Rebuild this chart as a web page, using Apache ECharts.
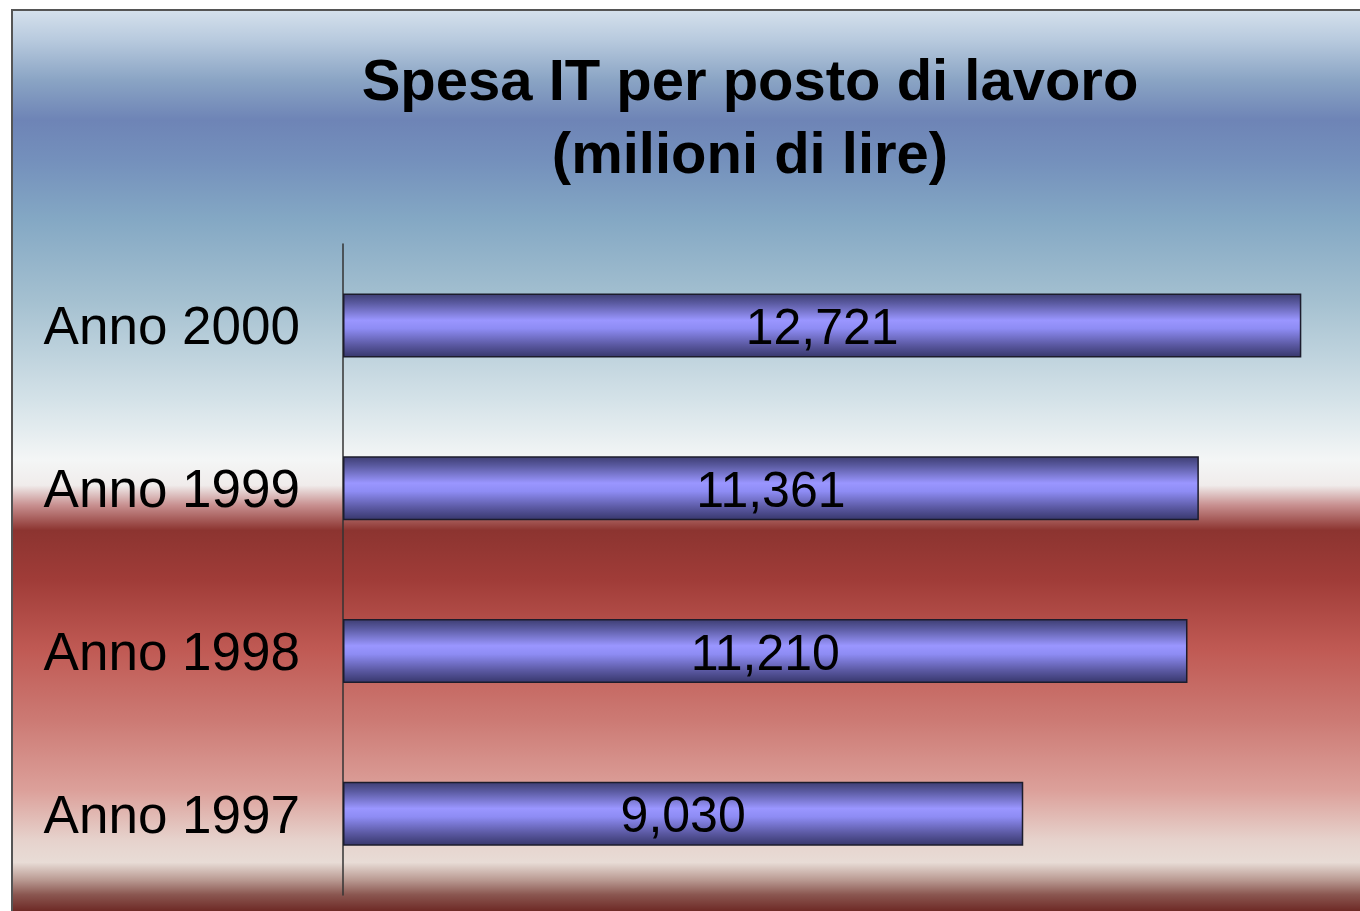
<!DOCTYPE html>
<html>
<head>
<meta charset="utf-8">
<script src="https://cdn.jsdelivr.net/npm/echarts@6/dist/echarts.min.js"></script>
<style>
  html, body { margin: 0; padding: 0; background: #fff; }
  #frame {
    position: absolute; left: 11px; top: 9px; width: 1349px; height: 902px;
    box-sizing: border-box; border-top: 2px solid #555; border-left: 2px solid #555;
  }
  #chart { width: 1347px; height: 900px; }
</style>
</head>
<body>
<div id="frame"><div id="chart"></div></div>
<script>
// dati (milioni di lire)
const categories = ["Anno 1997", "Anno 1998", "Anno 1999", "Anno 2000"];
const values = [9.030, 11.210, 11.361, 12.721];
const titleText = "Spesa IT per posto di lavoro\n(milioni di lire)";

const myChart = echarts.init(document.getElementById("chart"));

// sfondo: blu in alto, bianco al centro, rosso in basso
const bgGradient = new echarts.graphic.LinearGradient(0, 0, 0, 1, [
  { offset: 0, color: "#d4e0ec" },
  { offset: 0.032, color: "#b8cade" },
  { offset: 0.077, color: "#8aa4c4" },
  { offset: 0.121, color: "#6e84b6" },
  { offset: 0.166, color: "#7490bc" },
  { offset: 0.232, color: "#84a8c4" },
  { offset: 0.321, color: "#a4c0d0" },
  { offset: 0.432, color: "#d4e2e8" },
  { offset: 0.499, color: "#f4f6f6" },
  { offset: 0.527, color: "#f0eceb" },
  { offset: 0.549, color: "#c89090" },
  { offset: 0.577, color: "#8c3430" },
  { offset: 0.632, color: "#a03c38" },
  { offset: 0.71, color: "#c05a54" },
  { offset: 0.788, color: "#cc7a74" },
  { offset: 0.866, color: "#dca09a" },
  { offset: 0.921, color: "#e6d2cc" },
  { offset: 0.946, color: "#e8dcd6" },
  { offset: 0.966, color: "#b89890" },
  { offset: 0.982, color: "#8a5650" },
  { offset: 1, color: "#6e2a26" },
]);

const barGradient = new echarts.graphic.LinearGradient(0, 0, 0, 1, [
  { offset: 0, color: "#3c3c70" },
  { offset: 0.15, color: "#5a5aa0" },
  { offset: 0.42, color: "#9a96ff" },
  { offset: 0.55, color: "#8e8cf4" },
  { offset: 0.8, color: "#5c5aa4" },
  { offset: 1, color: "#36366a" },
]);

const option = {
  backgroundColor: bgGradient,
  animation: false,
  title: {
    text: titleText,
    left: 737,
    top: 36,
    textAlign: "center",
    padding: 0,
    textStyle: {
      fontFamily: "Liberation Sans",
      fontWeight: "bold",
      fontSize: 58,
      lineHeight: 73,
      color: "#000",
    },
  },
  grid: {
    left: 330,
    right: 0,
    top: 233,
    bottom: 16,
    containLabel: false,
  },
  xAxis: {
    type: "value",
    min: 0,
    max: 13.5,
    show: false,
    splitLine: { show: false },
  },
  yAxis: {
    type: "category",
    data: categories,
    axisTick: { show: false },
    axisLine: { lineStyle: { color: "#333", width: 1.5 } },
    axisLabel: {
      margin: 43,
      formatter: function (v) {
        return "{t|" + v + "}";
      },
      rich: {
        t: {
          fontFamily: "Liberation Sans",
          fontSize: 53,
          color: "#000",
          padding: [9, 0, 0, 0],
        },
      },
    },
  },
  series: [
    {
      type: "bar",
      data: values,
      barWidth: 64,
      itemStyle: {
        color: barGradient,
        borderColor: "#1c1c2c",
        borderWidth: 1.5,
      },
      label: {
        show: true,
        position: "inside",
        offset: [0, 5],
        fontFamily: "Liberation Sans",
        fontSize: 50,
        color: "#000",
        formatter: function (p) {
          return p.value.toFixed(3).replace(".", ",");
        },
      },
    },
  ],
};
myChart.setOption(option);
</script>
</body>
</html>
